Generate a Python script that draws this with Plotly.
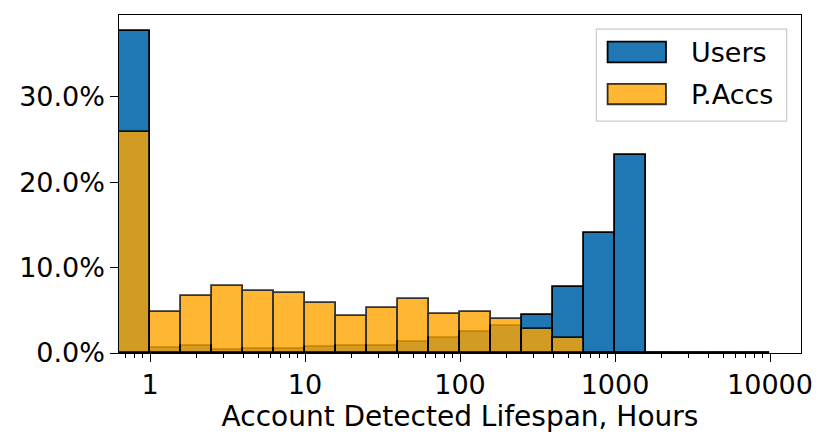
import numpy as np
import plotly.graph_objects as go

# histogram bin edges in hours (log-spaced, 5 bins per decade)
bin_edges = [0.631, 1, 1.585, 2.512, 3.981, 6.310, 10, 15.85, 25.12, 39.81, 63.10,
             100, 158.5, 251.2, 398.1, 631.0, 1000, 1585, 2512, 3981, 6310, 10000]

# share of accounts per bin (%)
users_pct = [37.7, 0.59, 0.78, 0.39, 0.50, 0.45, 0.70, 0.82, 0.78, 1.33, 1.76,
             2.46, 3.16, 4.45, 7.76, 14.09, 23.15, 0, 0, 0, 0]
paccs_pct = [25.9, 4.84, 6.67, 7.85, 7.30, 7.03, 5.89, 4.30, 5.23, 6.28, 4.57,
             4.75, 3.94, 2.77, 1.79, 0.05, 0, 0, 0, 0, 0]

x_tick_vals = [1, 10, 100, 1000, 10000]
x_tick_text = ["1", "10", "100", "1000", "10000"]
y_tick_vals = [0, 10, 20, 30]
y_tick_text = ["0.0%", "10.0%", "20.0%", "30.0%"]

FONT = "DejaVu Sans"
FS = 27
EDGE = 1.8

# bars live on a log10 axis
log_edges = np.log10(bin_edges)
centers = (log_edges[:-1] + log_edges[1:]) / 2
widths = log_edges[1:] - log_edges[:-1]

fig = go.Figure()
fig.add_trace(go.Bar(
    x=centers, y=users_pct, width=widths, name="Users",
    marker=dict(color="#1f77b4", line=dict(color="black", width=EDGE)),
))
fig.add_trace(go.Bar(
    x=centers, y=paccs_pct, width=widths, name="P.Accs", opacity=0.8,
    marker=dict(color="#ffa500", line=dict(color="black", width=EDGE)),
))

minor_vals = []
for d in range(-1, 5):
    for m in range(2, 10):
        v = np.log10(m) + d
        if -0.2 < v < 4.2:
            minor_vals.append(v)

fig.update_xaxes(
    range=[-0.2, 4.2], automargin=False,
    tickmode="array", tickvals=np.log10(x_tick_vals), ticktext=x_tick_text,
    ticks="outside", ticklen=7.5, tickwidth=1.3, tickcolor="black",
    minor=dict(tickmode="array", tickvals=minor_vals, ticks="outside",
               ticklen=4, tickwidth=1, tickcolor="black"),
    showline=True, linecolor="black", linewidth=1.3, mirror=True,
    showgrid=False, zeroline=False,
    tickfont=dict(family=FONT, size=FS, color="black"),
    title=dict(text="Account Detected Lifespan, Hours",
               font=dict(family=FONT, size=28, color="black"), standoff=6),
)
fig.update_yaxes(
    range=[0, 39.6], automargin=False,
    tickmode="array", tickvals=y_tick_vals, ticktext=y_tick_text,
    ticks="outside", ticklen=7.5, tickwidth=1.3, tickcolor="black",
    showline=True, linecolor="black", linewidth=1.3, mirror=True,
    showgrid=False, zeroline=False,
    tickfont=dict(family=FONT, size=FS, color="black"),
)

# matplotlib-style legend drawn by hand
legend_shapes = [
    dict(type="rect", xref="paper", yref="paper", x0=0.700, x1=0.979, y0=0.686, y1=0.958,
         line=dict(color="#cccccc", width=1.3), fillcolor="rgba(255,255,255,0.8)"),
    dict(type="rect", xref="paper", yref="paper", x0=0.7164, x1=0.802, y0=0.860, y1=0.921,
         line=dict(color="black", width=EDGE), fillcolor="#1f77b4"),
    dict(type="rect", xref="paper", yref="paper", x0=0.7164, x1=0.802, y0=0.736, y1=0.796,
         line=dict(color="rgba(0,0,0,0.8)", width=EDGE), fillcolor="rgba(255,165,0,0.8)"),
]
legend_labels = [
    dict(text="Users", x=0.8356, y=0.8905),
    dict(text="P.Accs", x=0.8356, y=0.7657),
]
for lab in legend_labels:
    fig.add_annotation(xref="paper", yref="paper", xanchor="left", yanchor="middle",
                       showarrow=False, font=dict(family=FONT, size=FS, color="black"), **lab)

# margins shifted by the page's 8px body offset
fig.update_layout(
    width=830, height=446,
    margin=dict(l=111, r=37, t=7, b=101),
    barmode="overlay", bargap=0,
    showlegend=False,
    shapes=legend_shapes,
    plot_bgcolor="white", paper_bgcolor="white",
)

fig.write_html("out.html")
